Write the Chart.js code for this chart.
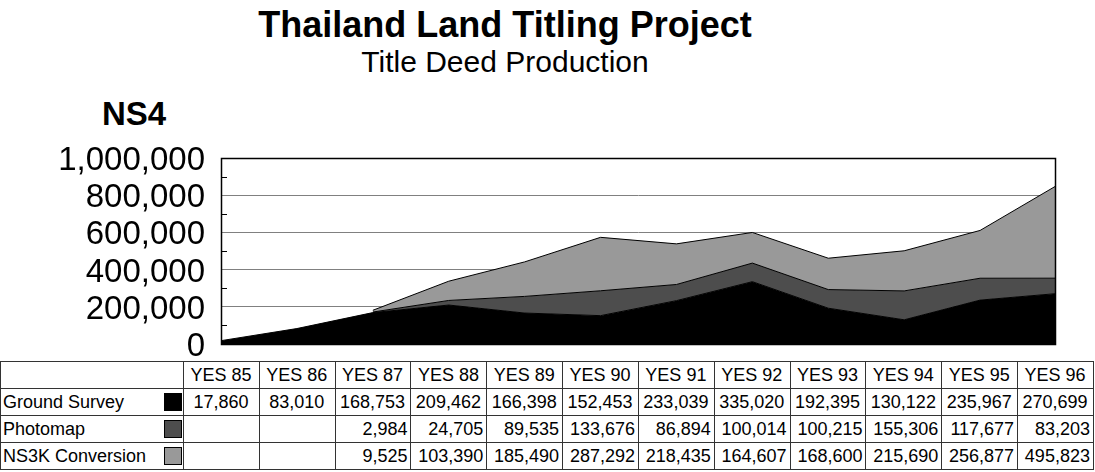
<!DOCTYPE html>
<html>
<head>
<meta charset="utf-8">
<script src="https://cdn.jsdelivr.net/npm/chart.js@4.4.1/dist/chart.umd.min.js"></script>
<style>
  body { margin: 0; background: #fff; font-family: "Liberation Sans", Arial, sans-serif; }
  #page { position: relative; width: 1095px; height: 472px; overflow: hidden; }
  .title { position: absolute; left: 0; width: 1010px; text-align: center; color: #000; white-space: nowrap; }
  #t1 { top: 7px; font-size: 36px; font-weight: bold; line-height: 36px; }
  #t2 { top: 47px; font-size: 30px; line-height: 30px; }
  #unit { position: absolute; left: 102px; top: 97px; font-size: 33px; line-height: 33px; font-weight: bold; }
  #box { position: absolute; left: 0; top: 0; width: 1095px; height: 420px; }
  #dataTable { position: absolute; left: 0; top: 361px; border-collapse: collapse; table-layout: fixed; font-size: 18px; background: #fff; }
  #dataTable td { border: 1px solid #333; height: 26px; padding: 0 3px 0 2px; white-space: nowrap; overflow: hidden; text-align: right; }
  #dataTable tr.head td, #dataTable tr.center td { text-align: center; }
  #dataTable tr td.name { text-align: left; position: relative; }
  .swatch { position: absolute; right: 1px; top: 4px; width: 16px; height: 16px; border: 1px solid #000; }
</style>
</head>
<body>
<div id="page">
  <div class="title" id="t1">Thailand Land Titling Project</div>
  <div class="title" id="t2">Title Deed Production</div>
  <div id="unit">NS4</div>
  <div id="box"><canvas id="areaChart"></canvas></div>
  <table id="dataTable"></table>
</div>
<script>
// Thailand land titling - stacked area with data table

const years = ['YES 85', 'YES 86', 'YES 87', 'YES 88', 'YES 89', 'YES 90', 'YES 91', 'YES 92', 'YES 93', 'YES 94', 'YES 95', 'YES 96'];
const groundSurvey = [17860, 83010, 168753, 209462, 166398, 152453, 233039, 335020, 192395, 130122, 235967, 270699];
const photomap = [null, null, 2984, 24705, 89535, 133676, 86894, 100014, 100215, 155306, 117677, 83203];
const ns3kConversion = [null, null, 9525, 103390, 185490, 287292, 218435, 164607, 168600, 215690, 256877, 495823];
const yTicks = [0, 200000, 400000, 600000, 800000, 1000000];

const series = [
  { name: 'Ground Survey', values: groundSurvey, color: '#000000', fill: 'origin' },
  { name: 'Photomap', values: photomap, color: '#4d4d4d', fill: '-1' },
  { name: 'NS3K Conversion', values: ns3kConversion, color: '#999999', fill: '-1' }
];

const fmt = v => (v == null ? '' : v.toLocaleString('en-US'));

// frame round the plot + short minor ticks on the left axis
const framePlugin = {
  id: 'frame',
  beforeDatasetsDraw(chart) {
    const { ctx, chartArea: a, scales: { y } } = chart;
    ctx.save();
    ctx.strokeStyle = '#000';
    ctx.lineWidth = 1;
    ctx.beginPath();
    for (let i = 0; i < yTicks.length - 1; i++) {
      const mid = (yTicks[i] + yTicks[i + 1]) / 2;
      const py = Math.round(y.getPixelForValue(mid)) + 0.5;
      ctx.moveTo(a.left, py);
      ctx.lineTo(a.left + 6, py);
    }
    ctx.stroke();
    ctx.restore();
  },
  afterDatasetsDraw(chart) {
    const { ctx, chartArea: a } = chart;
    ctx.save();
    ctx.strokeStyle = '#000';
    ctx.lineWidth = 1.5;
    ctx.strokeRect(a.left + 0.5, a.top + 0.5, a.right - a.left - 1, a.bottom - a.top);
    ctx.restore();
  }
};

new Chart(document.getElementById('areaChart'), {
  type: 'line',
  data: {
    labels: years,
    datasets: series.map(s => ({
      label: s.name,
      data: s.values,
      backgroundColor: s.color,
      borderColor: '#000',
      borderWidth: 1,
      fill: s.fill,
      pointRadius: 0,
      tension: 0
    }))
  },
  options: {
    responsive: true,
    maintainAspectRatio: false,
    animation: false,
    layout: { padding: { left: 0, right: 39, top: 158, bottom: 76 } },
    plugins: {
      legend: { display: false },
      tooltip: { enabled: false }
    },
    scales: {
      x: { display: false },
      y: {
        stacked: true,
        min: 0,
        max: 1000000,
        afterFit(scale) { scale.width = 221; },
        afterBuildTicks(scale) { scale.ticks = yTicks.map(v => ({ value: v })); },
        border: { display: false },
        grid: {
          drawTicks: false,
          color: ctx => (ctx.tick && (ctx.tick.value === 1000000 || ctx.tick.value === 0) ? '#000' : '#808080'),
          lineWidth: 1
        },
        ticks: {
          autoSkip: false,
          color: '#000',
          padding: 16,
          labelOffset: 3,
          font: { family: 'Liberation Sans, Arial, sans-serif', size: 33 },
          callback: v => v.toLocaleString('en-US')
        }
      }
    }
  },
  plugins: [framePlugin]
});

// data table under the plot
const table = document.getElementById('dataTable');
const colWidths = [183].concat(years.map(() => 75.83));
const colgroup = document.createElement('colgroup');
colWidths.forEach(w => {
  const c = document.createElement('col');
  c.style.width = w + 'px';
  colgroup.appendChild(c);
});
table.appendChild(colgroup);

const head = document.createElement('tr');
head.className = 'head';
head.innerHTML = '<td></td>' + years.map(y => `<td>${y}</td>`).join('');
table.appendChild(head);

series.forEach((s, i) => {
  const tr = document.createElement('tr');
  if (i === 0) tr.className = 'center';
  const name = document.createElement('td');
  name.className = 'name';
  name.textContent = s.name;
  const sw = document.createElement('span');
  sw.className = 'swatch';
  sw.style.background = s.color;
  name.appendChild(sw);
  tr.appendChild(name);
  s.values.forEach(v => {
    const td = document.createElement('td');
    td.textContent = fmt(v);
    tr.appendChild(td);
  });
  table.appendChild(tr);
});
</script>
</body>
</html>
